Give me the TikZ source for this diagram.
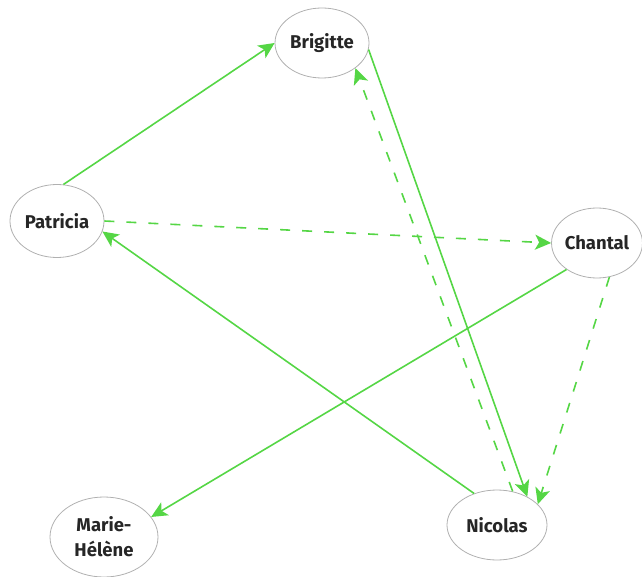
\documentclass[tikz,border=0pt]{standalone}
\usepackage{fontspec}
\setmainfont{Fira Sans}
\usetikzlibrary{arrows.meta,shapes.geometric}
\definecolor{edgegreen}{HTML}{55D645}
\definecolor{ringgrey}{HTML}{B0B0B0}
\tikzset{
  person/.style={ellipse, draw=ringgrey, line width=0.8pt, minimum width=#1, inner sep=0pt, font=\fontsize{18.5}{25}\selectfont\bfseries, text=black!85, align=center},
  link/.style={edgegreen, line width=1.6pt, -{Stealth[length=16pt, width=15pt, inset=4pt]}},
  dashlink/.style={link, dash pattern=on 10pt off 12pt},
}
\begin{document}
\begin{tikzpicture}[x=1pt, y=-1pt]
\useasboundingbox (0,0) rectangle (642,577);
\node[person=94pt, minimum height=70pt] (bri) at (322,43) {Brigitte};
\node[person=94pt, minimum height=73pt] (pat) at (57,221) {Patricia};
\node[person=90pt, minimum height=70pt] (cha) at (597,243) {Chantal};
\node[person=108pt, minimum height=80pt] (mar) at (104,537) {Marie-\\Hélène};
\node[person=100pt, minimum height=70pt] (nic) at (497,525) {Nicolas};
\draw[link] (pat.80) -- (bri.180);
\draw[dashlink] (pat.east) -- (cha.west);
\draw[link] (nic.126) -- (pat.-13);
\draw[link] (bri.-8) -- (nic.43);
\draw[dashlink] (nic.65) -- (bri.-37);
\draw[link] (cha.221) -- (mar.23);
\draw[dashlink] (cha.-70) -- (nic.27);
\end{tikzpicture}
\end{document}
